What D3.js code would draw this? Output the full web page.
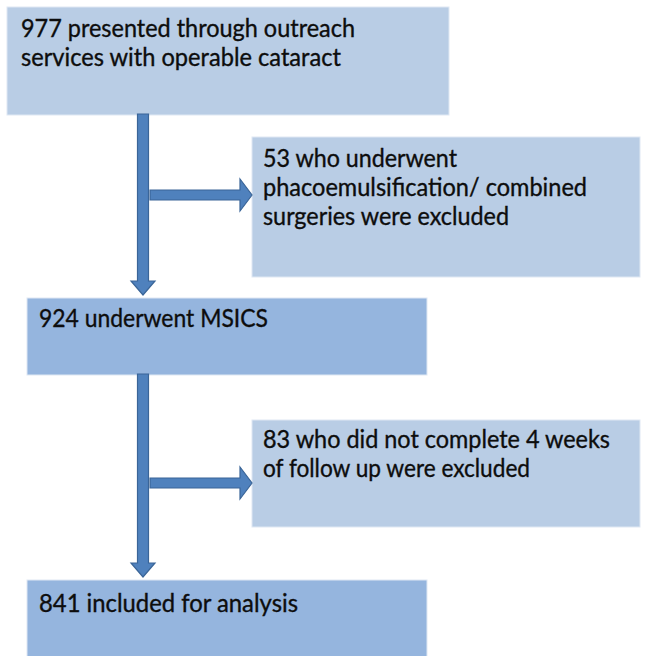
<!DOCTYPE html>
<html>
<head>
<meta charset="utf-8">
<script src="https://cdn.jsdelivr.net/npm/d3@7"></script>
<style>
  html, body { margin: 0; padding: 0; background: #fff; }
  svg { display: block; }
  .lbl { font-family: Lato, "Open Sans", "DejaVu Sans", sans-serif; font-size: 24.5px; fill: #0d0d0d; stroke: #0d0d0d; stroke-width: 0.35px; }
</style>
</head>
<body>
<svg id="chart" width="645" height="656"></svg>
<script>
// flow steps (main column) and exclusions (side boxes)
const stepCounts = [977, 924, 841];
const stepLines = [
  ['977 presented through outreach', 'services with operable cataract'],
  ['924 underwent MSICS'],
  ['841 included for analysis'],
];
const exclCounts = [53, 83];
const exclLines = [
  ['53 who underwent', 'phacoemulsification/ combined', 'surgeries were excluded'],
  ['83 who did not complete 4 weeks', 'of follow up were excluded'],
];

// layout (pixels)
const stepBoxes = [
  { x: 7, y: 7, w: 442, h: 108, fill: '#b9cde5', tx: 21, ty: 37, tw: [334, 320] },
  { x: 27, y: 298, w: 400, h: 77, fill: '#95b5de', tx: 39, ty: 327, tw: [229] },
  { x: 27, y: 580, w: 400, h: 90, fill: '#95b5de', tx: 39, ty: 612, tw: [259] },
];
const exclBoxes = [
  { x: 252, y: 137, w: 388, h: 140, fill: '#b9cde5', tx: 263, ty: 167, tw: [194, 324, 246] },
  { x: 252, y: 420, w: 388, h: 107, fill: '#b9cde5', tx: 263, ty: 448, tw: [347, 267] },
];
const exclArrowY = [195, 483];
const LINE_H = 29;
const SPINE_X = 143;

const svg = d3.select('#chart');

function drawBox(b, lines) {
  const g = svg.append('g');
  g.append('rect')
    .attr('x', b.x).attr('y', b.y).attr('width', b.w).attr('height', b.h)
    .attr('fill', b.fill)
    .attr('stroke', '#dfe8f3').attr('stroke-width', 1);
  g.selectAll('text').data(lines).join('text')
    .attr('class', 'lbl')
    .attr('x', b.tx)
    .attr('y', (d, i) => b.ty + i * LINE_H)
    .attr('textLength', (d, i) => b.tw[i])
    .attr('lengthAdjust', 'spacingAndGlyphs')
    .text((d) => d);
}

stepBoxes.forEach((b, i) => drawBox(b, stepLines[i]));
exclBoxes.forEach((b, i) => drawBox(b, exclLines[i]));

// block arrows
function downArrow(x, y1, y2) {
  const s = 5.5, h = 12, hl = 14;
  return [[x - s, y1], [x + s, y1], [x + s, y2 - hl], [x + h, y2 - hl], [x, y2],
    [x - h, y2 - hl], [x - s, y2 - hl]];
}
function rightArrow(y, x1, x2) {
  const s = 5, h = 16, hl = 12;
  return [[x1, y - s], [x2 - hl, y - s], [x2 - hl, y - h], [x2, y], [x2 - hl, y + h],
    [x2 - hl, y + s], [x1, y + s]];
}

const arrows = [];
for (let i = 0; i < stepBoxes.length - 1; i += 1) {
  const top = stepBoxes[i].y + stepBoxes[i].h - 1;
  const bot = stepBoxes[i + 1].y - 3;
  arrows.push(downArrow(SPINE_X, top, bot));
  arrows.push(rightArrow(exclArrowY[i], SPINE_X + 7, exclBoxes[i].x));
}

const line = d3.line();
svg.append('g').selectAll('path').data(arrows).join('path')
  .attr('d', (d) => line(d) + 'Z')
  .attr('fill', '#4f81bd')
  .attr('stroke', '#3a6598')
  .attr('stroke-width', 1.2)
  .attr('stroke-linejoin', 'miter');
</script>
</body>
</html>
